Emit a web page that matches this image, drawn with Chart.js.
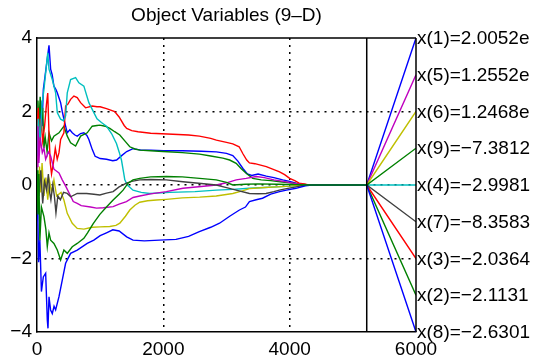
<!DOCTYPE html>
<html>
<head>
<meta charset="utf-8">
<script src="https://cdn.jsdelivr.net/npm/chart.js@4"></script>
<style>
html,body{margin:0;padding:0;background:#fff;}
canvas{display:block;}
</style>
</head>
<body>
<canvas id="c" width="534" height="360"></canvas>
<script>
// ---- data (step, value) ----
const titleText = "Object Variables (9\u2013D)";
const xTicks = [0, 2000, 4000, 6000];
const yTicks = [-4, -2, 0, 2, 4];
const splitStep = 5220;

const x1Path = [[0,0.8],[20,1.8],[40,1.2],[60,2.3],[80,1.6],[100,2.6],[130,3.0],[160,3.4],[190,3.8],[216,3.15],[240,3.0],[268,2.69],[300,2.6],[321,2.51],[374,2.24],[400,2.0],[426,1.79],[479,1.42],[520,1.5],[558,1.42],[600,1.36],[637,1.33],[690,1.4],[742,1.42],[790,1.35],[821,1.24],[874,0.97],[920,0.78],[960,0.75],[1000,0.72],[1100,0.7],[1200,0.66],[1260,0.68],[1340,0.8],[1420,0.91],[1520,0.99],[1650,0.95],[1800,0.95],[2000,0.93],[2300,0.93],[2600,0.92],[2840,0.9],[3000,0.86],[3100,0.8],[3180,0.65],[3260,0.45],[3330,0.3],[3400,0.26],[3500,0.3],[3630,0.24],[3750,0.2],[3890,0.14],[4000,0.1],[4100,0.05],[4200,0.02],[4300,0],[5220,0],[6000,4]];
const x2Path = [[0,1.2],[15,2.3],[30,1.6],[50,2.4],[70,1.8],[90,2.1],[110,1.0],[130,1.3],[160,0.9],[190,1.42],[230,1.2],[268,1.33],[348,1.42],[426,1.6],[479,1.33],[532,1.15],[611,1.06],[690,1.33],[795,1.42],[874,1.6],[950,1.62],[995,1.63],[1080,1.6],[1153,1.54],[1230,1.45],[1311,1.36],[1400,1.18],[1469,1.04],[1550,0.98],[1626,0.95],[1800,0.93],[1995,0.91],[2300,0.88],[2574,0.84],[2750,0.79],[2942,0.73],[3050,0.68],[3153,0.59],[3230,0.45],[3311,0.32],[3416,0.18],[3550,0.14],[3700,0.12],[3850,0.09],[4000,0.06],[4150,0.03],[4300,0],[5220,0],[6000,-3]];
const x3Path = [[0,1.5],[20,2.1],[40,1.0],[60,1.8],[90,1.2],[120,1.6],[150,2.2],[170,2.5],[190,1.4],[210,0.6],[230,0.3],[260,0.6],[290,1.0],[320,0.7],[348,0.88],[374,1.24],[426,1.42],[453,2.15],[490,2.2],[532,2.33],[584,2.42],[637,2.38],[690,2.24],[769,2.1],[874,2.15],[950,2.13],[1000,2.13],[1100,2.08],[1230,2.0],[1300,1.85],[1380,1.62],[1420,1.54],[1500,1.48],[1600,1.45],[1800,1.41],[2150,1.38],[2400,1.36],[2570,1.33],[2750,1.27],[2840,1.22],[3000,1.16],[3100,1.12],[3200,1.04],[3260,0.85],[3320,0.68],[3363,0.6],[3450,0.58],[3630,0.5],[3750,0.42],[3840,0.36],[3920,0.28],[4000,0.18],[4080,0.12],[4150,0.05],[4250,0.02],[4300,0],[5220,0],[6000,-2]];
const x4Path = [[0,0.8],[20,1.8],[50,1.2],[80,2.2],[110,2.6],[140,3.1],[170,3.6],[190,3.15],[242,2.87],[295,2.51],[321,1.97],[374,1.79],[420,1.75],[453,1.88],[479,2.51],[532,2.87],[611,2.92],[663,2.78],[742,2.69],[821,2.24],[900,1.97],[950,1.8],[1020,1.7],[1100,1.6],[1180,1.4],[1258,1.13],[1300,0.9],[1337,0.68],[1370,0.35],[1390,0.14],[1430,0.0],[1520,-0.14],[1650,-0.2],[1784,-0.23],[2100,-0.2],[2500,-0.18],[2840,-0.14],[3100,-0.12],[3360,-0.09],[3600,-0.07],[3800,-0.05],[4000,-0.03],[4200,0],[5220,0],[6000,0]];
const x5Path = [[0,0.5],[15,1.6],[30,0.6],[50,1.3],[84,0.88],[110,1.0],[137,0.7],[180,0.9],[216,0.79],[268,0.43],[348,0.33],[400,0.14],[460,-0.05],[532,-0.3],[574,-0.45],[637,-0.5],[700,-0.56],[848,-0.6],[943,-0.63],[1050,-0.62],[1205,-0.59],[1300,-0.52],[1416,-0.45],[1521,-0.34],[1626,-0.3],[1800,-0.24],[2048,-0.18],[2311,-0.09],[2600,-0.04],[2837,0],[3000,0.06],[3153,0.14],[3311,0.18],[3470,0.23],[3600,0.2],[3750,0.14],[3900,0.1],[4050,0.05],[4200,0.01],[4300,0],[5220,0],[6000,3]];
const x6Path = [[0,0.3],[20,-0.4],[40,0.5],[60,-0.2],[80,0.6],[110,-0.3],[140,0.2],[170,-0.4],[200,0.1],[230,-0.2],[268,0.14],[311,-0.3],[380,-0.2],[426,-0.41],[479,-0.77],[558,-1.04],[637,-1.18],[742,-1.2],[874,-1.15],[1000,-1.14],[1153,-1.13],[1250,-1.1],[1311,-1.04],[1400,-0.85],[1469,-0.68],[1550,-0.55],[1626,-0.47],[1750,-0.43],[1890,-0.41],[2048,-0.39],[2300,-0.35],[2574,-0.33],[2837,-0.3],[3100,-0.23],[3250,-0.16],[3363,-0.1],[3600,-0.07],[3800,-0.05],[4000,-0.03],[4200,0],[5220,0],[6000,2]];
const x7Path = [[0,0.2],[30,-0.3],[60,0.4],[90,-0.5],[120,0.1],[153,-0.14],[180,0.3],[200,-0.2],[220,-0.4],[250,0.0],[275,-0.3],[300,-0.76],[330,-0.3],[370,-0.4],[420,-0.2],[479,-0.23],[532,-0.32],[637,-0.23],[785,-0.23],[900,-0.25],[995,-0.27],[1100,-0.22],[1205,-0.18],[1300,-0.05],[1416,0.05],[1500,0.1],[1626,0.14],[1800,0.15],[2048,0.14],[2311,0.09],[2600,0.04],[2837,0],[3000,-0.07],[3153,-0.14],[3363,-0.23],[3500,-0.24],[3626,-0.23],[3750,-0.18],[3837,-0.14],[3950,-0.1],[4100,-0.05],[4250,0],[5220,0],[6000,-1]];
const x8Path = [[0,-0.3],[15,-1.0],[25,-2.1],[45,-1.5],[70,-2.9],[100,-2.5],[137,-2.4],[163,-3.67],[174,-3.9],[190,-3.04],[215,-3.4],[242,-3.5],[270,-3.3],[295,-3.4],[348,-3.04],[400,-2.59],[453,-2.13],[532,-1.86],[637,-1.77],[795,-1.59],[900,-1.5],[1000,-1.38],[1100,-1.3],[1200,-1.22],[1300,-1.25],[1420,-1.41],[1520,-1.5],[1700,-1.52],[1940,-1.5],[2200,-1.48],[2400,-1.4],[2570,-1.27],[2750,-1.15],[2890,-1.04],[3050,-0.85],[3205,-0.68],[3300,-0.6],[3363,-0.45],[3470,-0.4],[3570,-0.36],[3700,-0.25],[3840,-0.18],[3950,-0.14],[4100,-0.09],[4250,-0.02],[4350,0],[5220,0],[6000,-4]];
const x9Path = [[0,0.4],[15,-0.8],[30,0.3],[45,-1.5],[70,-0.6],[110,-0.86],[140,-1.2],[163,-1.68],[190,-1.3],[216,-1.5],[268,-1.59],[321,-1.77],[374,-2.04],[426,-1.77],[479,-1.86],[558,-1.68],[637,-1.59],[742,-1.45],[800,-1.3],[890,-1.05],[995,-0.8],[1100,-0.6],[1205,-0.41],[1300,-0.25],[1363,-0.14],[1442,0.05],[1520,0.14],[1626,0.18],[1800,0.22],[2048,0.23],[2300,0.22],[2574,0.18],[2837,0.14],[3000,0.07],[3100,0.0],[3300,0.02],[3500,0.03],[3800,0.02],[4100,0.01],[4300,0],[5220,0],[6000,1]];

const seriesNames = ["x(1)","x(2)","x(3)","x(4)","x(5)","x(6)","x(7)","x(8)","x(9)"];
const seriesPaths = [x1Path,x2Path,x3Path,x4Path,x5Path,x6Path,x7Path,x8Path,x9Path];
const seriesColors = ["#0000ff","#008000","#ff0000","#00bfbf","#bf00bf","#bfbf00","#404040","#0000ff","#008000"];

// right-hand labels (text, position on y axis)
const endLabels = ["x(1)=2.0052e","x(5)=1.2552e","x(6)=1.2468e","x(9)=\u22127.3812","x(4)=\u22122.9981","x(7)=\u22128.3583","x(3)=\u22122.0364","x(2)=\u22122.1131","x(8)=\u22122.6301"];
const endLabelPos = [4,3,2,1,0,-1,-2,-3,-4];

const FONT = "'Liberation Sans', Arial, Helvetica, sans-serif";

const datasets = seriesPaths.map((p,i)=>({
  label: seriesNames[i],
  data: p.map(q=>({x:q[0], y:q[1]})),
  borderColor: seriesColors[i],
  borderWidth: 1.4,
  pointRadius: 0,
  tension: 0,
  fill: false,
  order: seriesPaths.length - i
}));

const extras = {
  id: 'extras',
  afterDraw(chart){
    const {ctx, chartArea:a, scales:{x,y}} = chart;
    ctx.save();
    ctx.strokeStyle = '#000';
    ctx.lineWidth = 1.5;
    ctx.beginPath();
    ctx.moveTo(a.left, a.top); ctx.lineTo(a.right, a.top);
    ctx.moveTo(a.right, a.top); ctx.lineTo(a.right, a.bottom);
    const sx = x.getPixelForValue(splitStep);
    ctx.moveTo(sx, a.top); ctx.lineTo(sx, a.bottom);
    ctx.stroke();
    // title
    ctx.fillStyle = '#000';
    ctx.font = '19px ' + FONT;
    ctx.textAlign = 'center';
    ctx.textBaseline = 'middle';
    ctx.fillText(titleText, (a.left + a.right)/2, 16);
    // end labels
    ctx.textAlign = 'left';
    ctx.font = '19px ' + FONT;
    endLabels.forEach((t,i)=>{
      ctx.fillText(t, a.right + 1, y.getPixelForValue(endLabelPos[i]) + 1);
    });
    ctx.restore();
  }
};

new Chart(document.getElementById('c'), {
  type: 'line',
  data: { datasets },
  options: {
    responsive: false,
    animation: false,
    devicePixelRatio: 1,
    layout: { padding: { top: 38, right: 118, left: 0, bottom: 0 } },
    plugins: { legend: { display: false }, title: { display: false }, tooltip: { enabled: false } },
    scales: {
      x: {
        type: 'linear', min: 0, max: 6000,
        afterBuildTicks: s => { s.ticks = xTicks.map(v=>({value:v})); },
        afterFit: s => { s.height = 28; },
        ticks: { font: { size: 19, family: FONT }, color: '#000', padding: 6, maxRotation: 0, autoSkip: false,
          callback: v => String(v) },
        grid: {
          drawTicks: false, lineWidth: 1.5,
          color: c => (c.tick && (c.tick.value === 2000 || c.tick.value === 4000)) ? '#000' : 'rgba(0,0,0,0)'
        },
        border: { display: true, color: '#000', width: 1.5, dash: [2,5] }
      },
      y: {
        type: 'linear', min: -4, max: 4,
        afterBuildTicks: s => { s.ticks = yTicks.map(v=>({value:v})); },
        afterFit: s => { s.width = 37; },
        ticks: { font: { size: 19, family: FONT }, color: '#000', padding: 5,
          callback: v => String(v).replace('-', '\u2212') },
        grid: {
          drawTicks: false, lineWidth: 1.5,
          color: c => (c.tick && (c.tick.value === 2 || c.tick.value === 0 || c.tick.value === -2)) ? '#000' : 'rgba(0,0,0,0)'
        },
        border: { display: true, color: '#000', width: 1.5, dash: [2,5] }
      }
    }
  },
  plugins: [extras]
});
</script>
</body>
</html>
